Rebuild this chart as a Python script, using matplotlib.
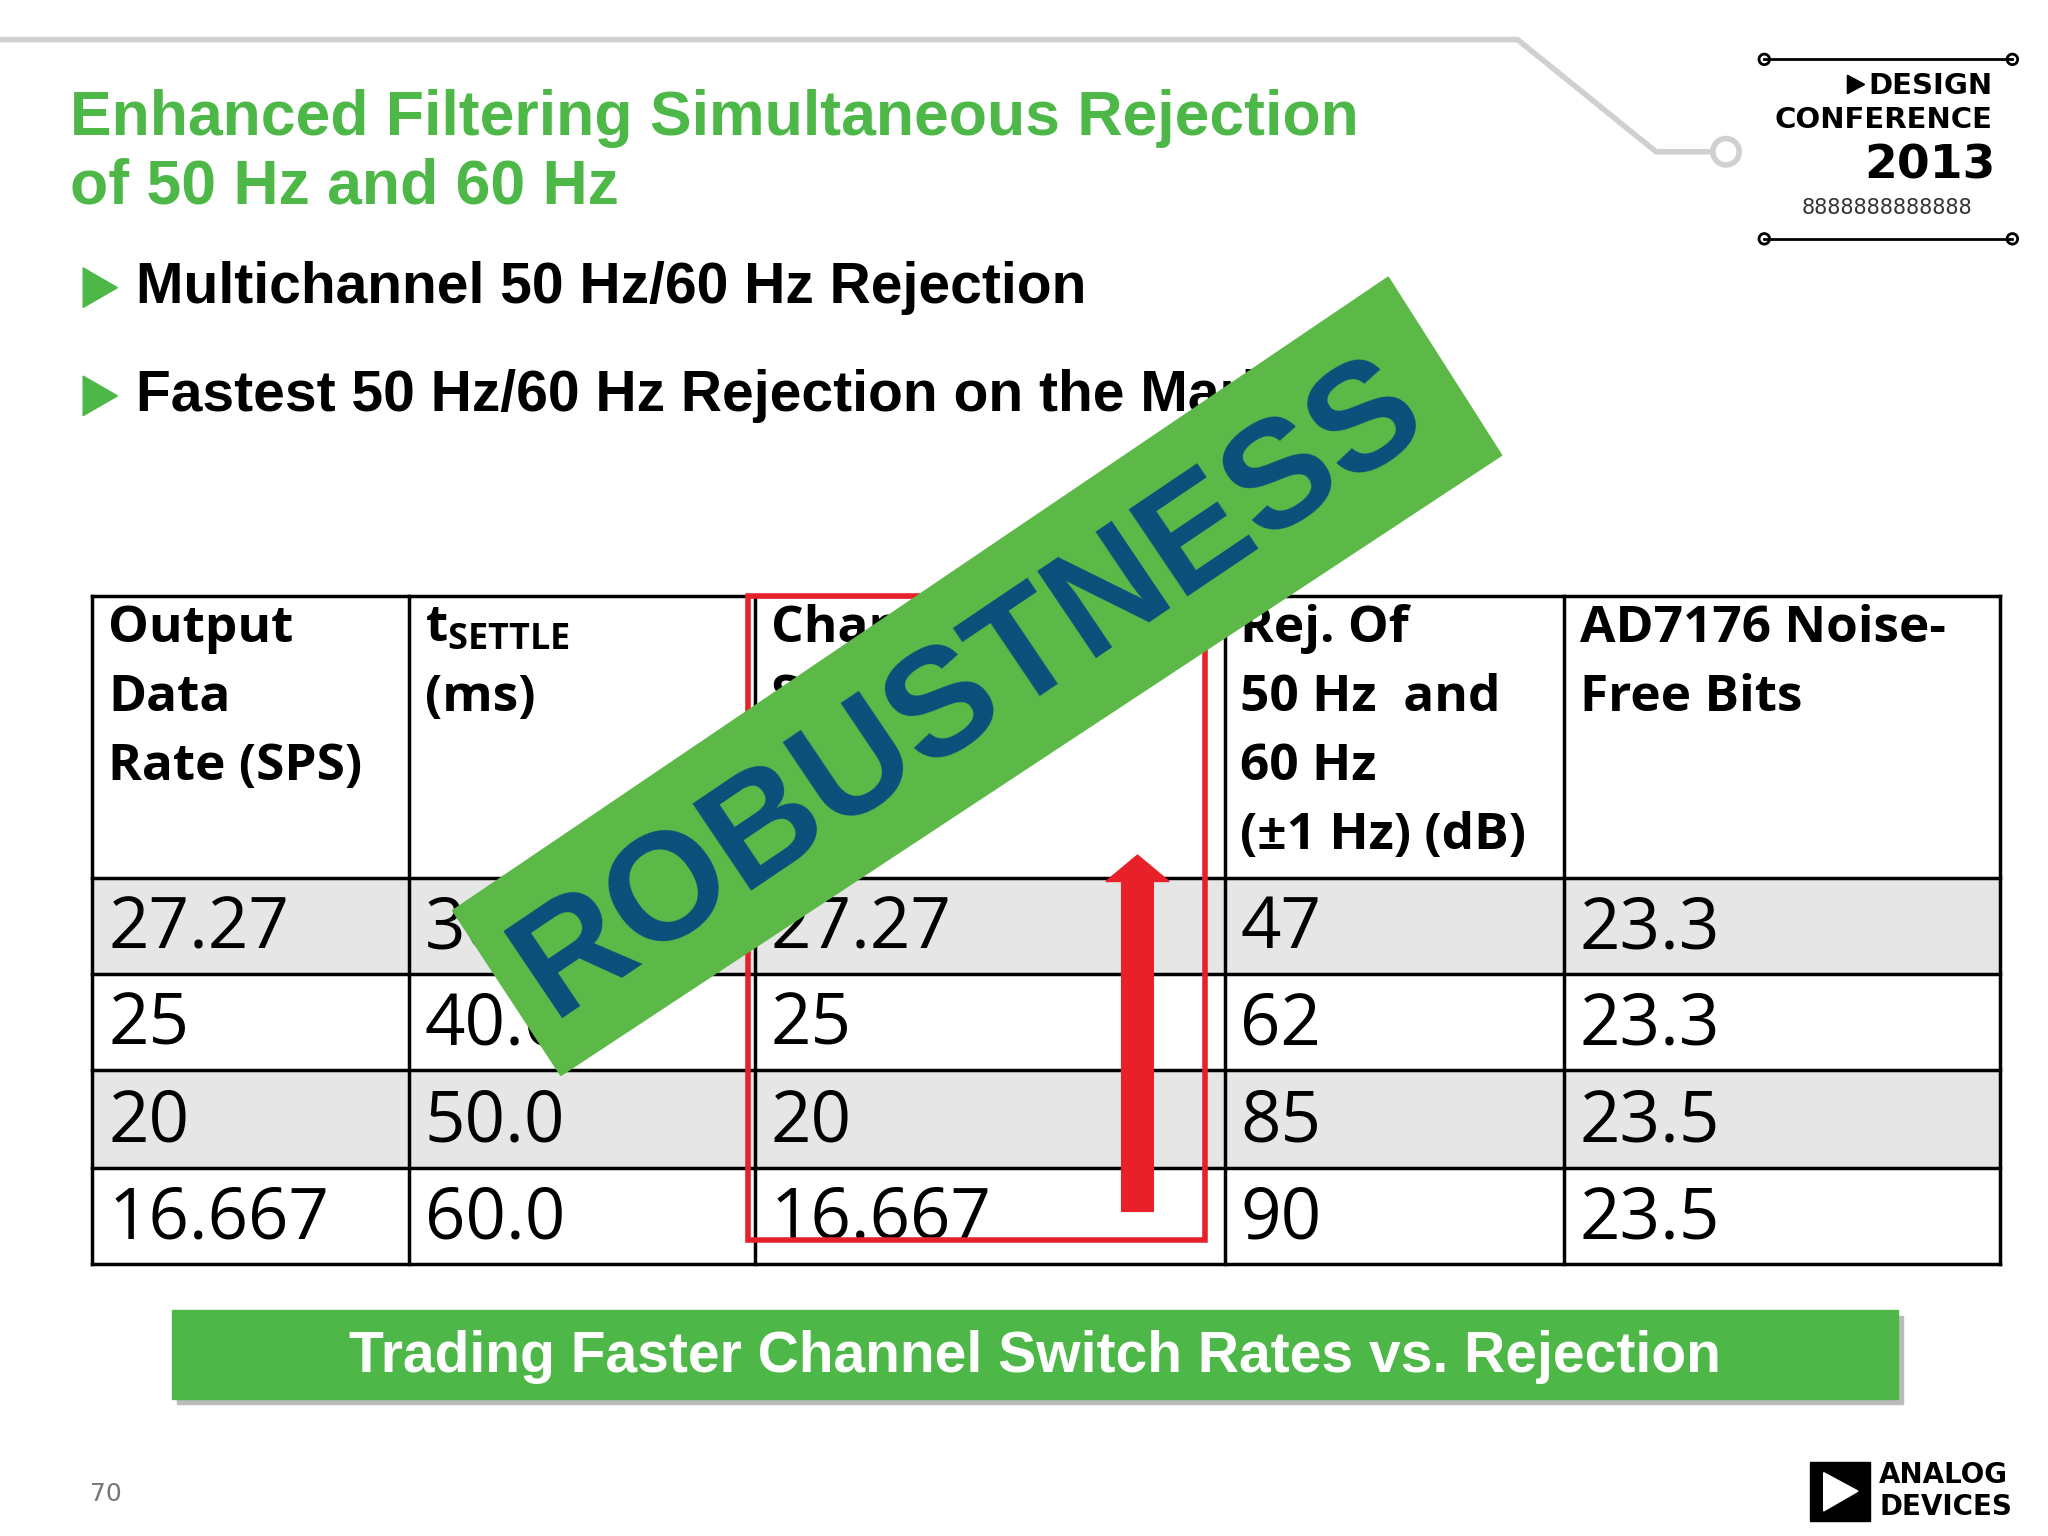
import matplotlib
matplotlib.use("Agg")
import matplotlib.pyplot as plt
from matplotlib.patches import Rectangle, Polygon, Circle, FancyArrow

title_lines = ["Enhanced Filtering Simultaneous Rejection", "of 50 Hz and 60 Hz"]
bullets = ["Multichannel 50 Hz/60 Hz Rejection", "Fastest 50 Hz/60 Hz Rejection on the Market"]
headers = ["Output\nData\nRate (SPS)", "$\\mathregular{t_{SETTLE}}$\n(ms)", "Channel\nSwitch Rate\n(SPS/Ch)",
           "Rej. Of\n50 Hz  and\n60 Hz\n(±1 Hz) (dB)", "AD7176 Noise-\nFree Bits"]
odr = ["27.27", "25", "20", "16.667"]
tsettle = ["36.7", "40.0", "50.0", "60.0"]
switch = ["27.27", "25", "20", "16.667"]
rejection = ["47", "62", "85", "90"]
nfb = ["23.3", "23.3", "23.5", "23.5"]
footer = "Trading Faster Channel Switch Rates vs. Rejection"

GREEN = "#4db848"
fig = plt.figure(figsize=(20.48, 15.36), dpi=100)
ax = fig.add_axes([0, 0, 1, 1])
ax.set_xlim(0, 1552); ax.set_ylim(1164, 0); ax.axis("off")

# decorative top line
ax.plot([0, 1150, 1255, 1298], [30, 30, 115, 115], color="#d0d0d0", lw=4)
ax.add_patch(Circle((1308, 115), 10, fill=False, ec="#d0d0d0", lw=4))

for i, t in enumerate(title_lines):
    ax.text(53, 90 + 52 * i, t, color=GREEN, fontsize=45, fontweight="bold",
            family="Liberation Sans", va="center")
for i, b in enumerate(bullets):
    y = 218 + 82 * i
    ax.add_patch(Polygon([(63, y - 15), (63, y + 15), (89, y)], color=GREEN))
    ax.text(103, y, b, fontsize=41, fontweight="bold", family="Liberation Sans", va="center")

# table
cols = [70, 310, 572, 928, 1185, 1516]
rows = [452, 665, 738, 811, 885, 958]
for r in (0, 2):
    ax.add_patch(Rectangle((cols[0], rows[r + 1]), cols[-1] - cols[0], rows[r + 2] - rows[r + 1],
                           color="#e6e6e6", zorder=1))
for x in cols:
    ax.plot([x, x], [rows[0], rows[-1]], color="black", lw=2.5, zorder=2)
for y in rows:
    ax.plot([cols[0], cols[-1]], [y, y], color="black", lw=2.5, zorder=2)
for j, h in enumerate(headers):
    ax.text(cols[j] + 12, rows[0] + 6, h, fontsize=37, fontweight="bold", family="Open Sans",
            va="top", linespacing=1.5, zorder=3)
data = [odr, tsettle, switch, rejection, nfb]
for j, col in enumerate(data):
    for i, v in enumerate(col):
        ax.text(cols[j] + 12, (rows[i + 1] + rows[i + 2]) / 2 + 3, v, fontsize=51,
                family="Open Sans", va="center", zorder=3)

# red box and arrow
ax.add_patch(Rectangle((567, 452), 346, 488, fill=False, ec="#e8202a", lw=4, zorder=4))
ax.add_patch(FancyArrow(862, 918, 0, -250, width=24, head_width=48, head_length=20,
                        length_includes_head=False, color="#e8202a", zorder=4))

# banner
ax.add_patch(Polygon([(343, 690), (1052, 210), (1138, 345), (425, 815)], color="#5cb947", zorder=6))
ax.text(735, 522, "ROBUSTNESS", rotation=34, rotation_mode="anchor", ha="center", va="center",
        fontsize=110, fontweight="bold", family="Liberation Sans", color="#0c4f7c", zorder=7)

# footer bar
ax.add_patch(Rectangle((134, 997), 1308, 67, color="#bbbbbb", zorder=1))
ax.add_patch(Rectangle((130, 993), 1308, 67, color=GREEN, zorder=2))
ax.text(784, 1028, footer, color="white", fontsize=41, fontweight="bold",
        family="Liberation Sans", ha="center", va="center", zorder=3)

ax.text(68, 1132, "70", fontsize=18, color="#777777", va="center")

# design conference logo
ax.plot([1337, 1525], [45, 45], color="black", lw=2)
ax.plot([1337, 1525], [181, 181], color="black", lw=2)
for x, y in [(1337, 45), (1525, 45), (1337, 181), (1525, 181)]:
    ax.add_patch(Circle((x, y), 4, fill=False, ec="black", lw=2))
ax.add_patch(Polygon([(1400, 57), (1400, 71), (1413, 64)], color="black"))
ax.text(1510, 65, "DESIGN", fontsize=21, fontweight="bold", family="DejaVu Sans Condensed",
        ha="right", va="center")
ax.text(1510, 91, "CONFERENCE", fontsize=21, fontweight="bold", family="DejaVu Sans Condensed",
        ha="right", va="center")
ax.text(1512, 126, "2013", fontsize=34, fontweight="bold", family="DejaVu Sans Condensed",
        ha="right", va="center")
ax.text(1430, 158, "8" * 13, fontsize=15, ha="center", va="center", color="#333333",
        family="DejaVu Sans Condensed")

# Analog Devices logo
ax.add_patch(Rectangle((1372, 1108), 45, 45, color="black"))
ax.add_patch(Polygon([(1382, 1116), (1382, 1145), (1408, 1130)], color="white"))
ax.text(1424, 1118, "ANALOG", fontsize=20, fontweight="bold", family="DejaVu Sans Condensed", va="center")
ax.text(1424, 1142, "DEVICES", fontsize=20, fontweight="bold", family="DejaVu Sans Condensed", va="center")

fig.savefig("out.png", dpi=100)
